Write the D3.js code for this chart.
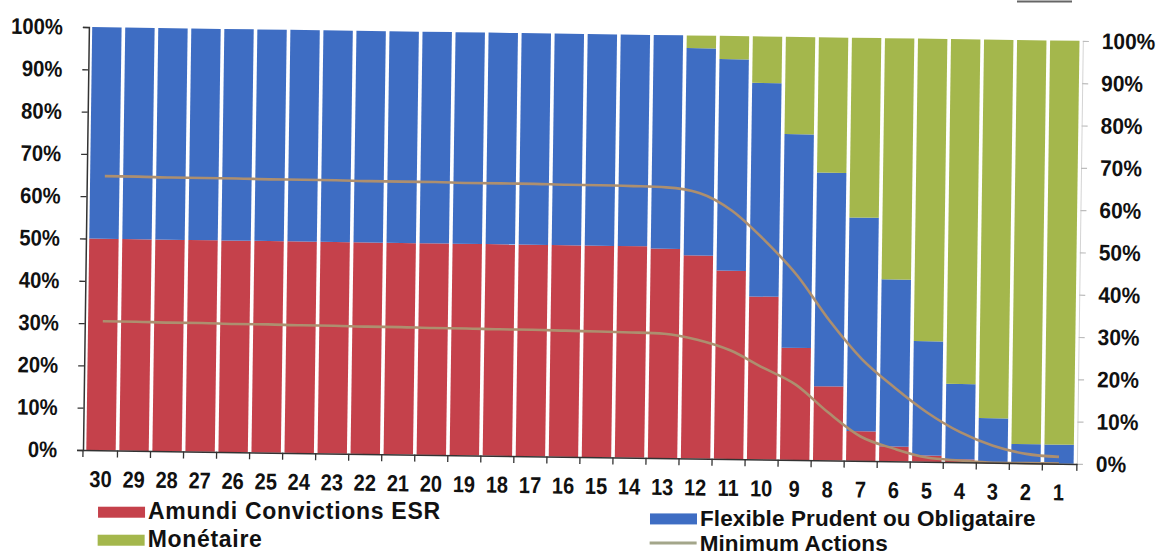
<!DOCTYPE html>
<html>
<head>
<meta charset="utf-8">
<script src="https://cdn.jsdelivr.net/npm/d3@7"></script>
<style>
  html, body { margin: 0; padding: 0; background: #fff; }
  svg { display: block; }
  text { font-family: "Liberation Sans", Arial, sans-serif; font-weight: bold; fill: #111; }
</style>
</head>
<body>
<svg id="chart" width="1167" height="559"></svg>
<script>
// Years remaining until the target date
const categories = ["30","29","28","27","26","25","24","23","22","21","20","19","18","17","16","15",
                    "14","13","12","11","10","9","8","7","6","5","4","3","2","1"];

// Allocation per year (% of the portfolio)
const amundi    = [50,50,50,50,50,50,50,50,50,50,50,50,50,50,50,50,50,
                   49.5,48,44.5,38.5,26.5,17.5,7,3.5,1.5,0.7,0,0,0];
const flexible  = [50,50,50,50,50,50,50,50,50,50,50,50,50,50,50,50,50,
                   50.5,49,50,50.5,50.5,50.5,50.5,39.5,27,17.8,10.5,4.5,4.5];
const monetaire = [0,0,0,0,0,0,0,0,0,0,0,0,0,0,0,0,0,
                   0,3,5.5,11,23,32,42.5,57,71.5,81.5,89.5,95.5,95.5];

// Minimum equity exposure curves
const minActionsHigh = [64.8,64.8,64.7,64.7,64.7,64.6,64.6,64.6,64.5,64.5,64.5,64.4,64.4,64.4,64.3,64.3,64.2,
                        64.0,62.8,58.7,51.8,43.6,33.0,24.0,17.4,11.6,7.1,4.0,2.2,1.6];
const minActionsLow  = [30.5,30.5,30.4,30.4,30.3,30.3,30.2,30.2,30.1,30.1,30.0,30.0,29.9,29.9,29.8,29.7,29.6,
                        29.4,28.1,25.7,21.7,17.8,11.3,5.7,3.0,1.0,0.4,0,0,0];

const yTicks = [0,10,20,30,40,50,60,70,80,90,100];

const seriesKeys   = ["amundi", "flexible", "monetaire"];
const seriesLabels = {amundi: "Amundi Convictions ESR", flexible: "Flexible Prudent ou Obligataire",
                      monetaire: "Monétaire", line: "Minimum Actions"};
const colors = {amundi: "#c5414b", flexible: "#3e6dc3", monetaire: "#a4b74c", line: "#ad8f6f"};

const plot = {left: 83, right: 1077, top: 27, bottom: 450};
const tilt = 0.8;
const rad = tilt * Math.PI / 180;
// position of a point once the chart frame is tilted around its bottom-left corner
const tilted = (px, py) => {
  const dx = px - plot.left, dy = py - plot.bottom;
  return [plot.left + dx * Math.cos(rad) - dy * Math.sin(rad),
          plot.bottom + dx * Math.sin(rad) + dy * Math.cos(rad)];
};

const svg = d3.select("#chart");

// small rule at the top right corner
svg.append("line").attr("x1", 1017).attr("x2", 1072).attr("y1", 1.5).attr("y2", 1.5)
   .attr("stroke", "#666").attr("stroke-width", 2);

const g = svg.append("g").attr("transform", `rotate(${tilt},${plot.left},${plot.bottom})`);

const x = d3.scaleBand().domain(categories).range([plot.left, plot.right])
  .paddingInner(0.11).paddingOuter(0.1);
const y = d3.scaleLinear().domain([0, 100]).range([plot.bottom, plot.top]);

const rows = categories.map((c, i) => ({cat: c, amundi: amundi[i], flexible: flexible[i], monetaire: monetaire[i]}));
const stacked = d3.stack().keys(seriesKeys)(rows);

// stacked bars
g.append("g").selectAll("g").data(stacked).join("g")
  .attr("fill", d => colors[d.key])
  .selectAll("rect").data(d => d).join("rect")
  .attr("x", d => x(d.data.cat))
  .attr("width", x.bandwidth())
  .attr("y", d => y(d[1]))
  .attr("height", d => y(d[0]) - y(d[1]));

// minimum equity curves
const line = d3.line()
  .x((d, i) => x(categories[i]) + x.bandwidth() / 2)
  .y(d => y(d))
  .curve(d3.curveMonotoneX);
[minActionsHigh, minActionsLow].forEach(vals => {
  g.append("path").datum(vals).attr("d", line)
    .attr("fill", "none").attr("stroke", colors.line).attr("stroke-width", 2.6);
});

// left axis
const leftAxis = g.append("g").attr("transform", `translate(${plot.left},0)`)
  .call(d3.axisLeft(y).tickValues(yTicks).tickFormat(d => d + "%").tickSize(6).tickPadding(20));
leftAxis.attr("font-family", null).attr("font-size", null);
leftAxis.select(".domain").attr("stroke", "#333").attr("stroke-width", 1.5);
leftAxis.selectAll(".tick line").attr("stroke", "#333").attr("stroke-width", 1.3);
leftAxis.selectAll(".tick text").attr("font-size", 22.5)
  .attr("x", -26 / 0.9).attr("transform", "scale(0.9,1)");

// right axis
const rightAxis = g.append("g").attr("transform", `translate(${plot.right},0)`)
  .call(d3.axisRight(y).tickValues(yTicks).tickFormat(d => d + "%").tickSize(6).tickPadding(13));
rightAxis.attr("font-family", null).attr("font-size", null);
rightAxis.select(".domain").attr("stroke", "#d4d4d4").attr("stroke-width", 1);
rightAxis.selectAll(".tick line").attr("stroke", "#bdbdbd").attr("stroke-width", 1.2);
rightAxis.selectAll(".tick text").attr("font-size", 22.5)
  .attr("x", 19 / 0.93).attr("transform", "scale(0.93,1)");

// bottom axis
const bottomAxis = g.append("g").attr("transform", `translate(0,${plot.bottom})`)
  .call(d3.axisBottom(x).tickSize(0).tickSizeOuter(0).tickPadding(20.5));
bottomAxis.attr("font-family", null).attr("font-size", null);
bottomAxis.select(".domain").attr("stroke", "#333").attr("stroke-width", 1.5);
bottomAxis.selectAll(".tick text").attr("font-size", 23).attr("transform", "scale(0.87,1)");

// category separators on the bottom axis
const gap = x.step() * x.paddingInner();
const separators = [plot.left].concat(categories.slice(1).map(c => x(c) - gap / 2), [plot.right]);
g.append("g").selectAll("line").data(separators).join("line")
  .attr("x1", d => d).attr("x2", d => d)
  .attr("y1", plot.bottom).attr("y2", plot.bottom + 7)
  .attr("stroke", "#333").attr("stroke-width", 1.3);

// legend: each entry is anchored at its place in the tilted frame and drawn level
const legendItems = [
  {key: "amundi",    kind: "rect", x: 99,  baseline: 519,   size: 23,   spacing: 0.7},
  {key: "flexible",  kind: "rect", x: 651, baseline: 518,   size: 22.5, spacing: 0.1},
  {key: "monetaire", kind: "rect", x: 99,  baseline: 547,   size: 23,   spacing: 0.7},
  {key: "line",      kind: "line", x: 651, baseline: 543.5, size: 22.5, spacing: 0.1}
];
const legend = svg.append("g");
legendItems.forEach(item => {
  const [ax, ay] = tilted(item.x, item.baseline);
  const entry = legend.append("g").attr("transform", `translate(${ax},${ay})`);
  if (item.kind === "rect") {
    entry.append("rect").attr("x", 0).attr("y", -12.5)
      .attr("width", 47).attr("height", 11).attr("fill", colors[item.key]);
  } else {
    entry.append("line").attr("x1", 0).attr("x2", 47)
      .attr("y1", -8.5).attr("y2", -8.5)
      .attr("stroke", "#a3a68a").attr("stroke-width", 3);
  }
  entry.append("text").attr("x", 50).attr("y", 0)
    .attr("font-size", item.size).attr("letter-spacing", item.spacing).text(seriesLabels[item.key]);
});
</script>
</body>
</html>
